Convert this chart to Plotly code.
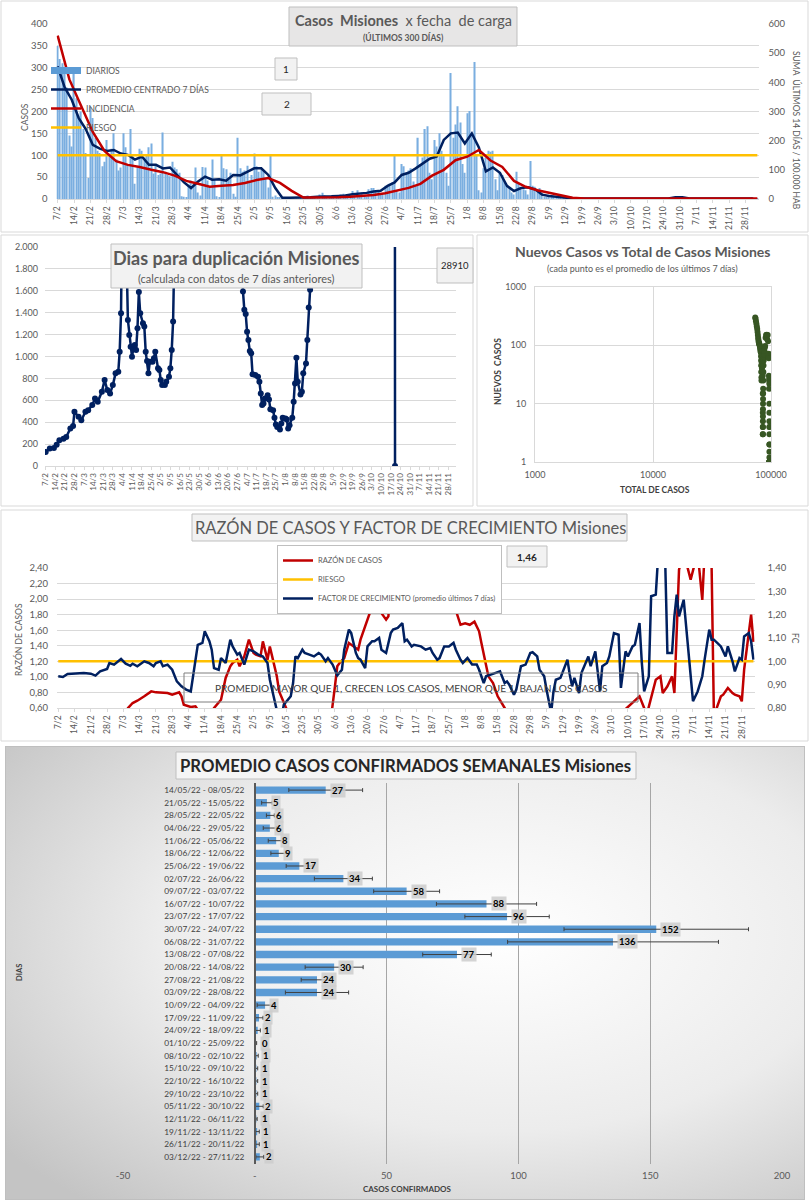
import base64
import datetime as dt
import plotly.graph_objects as go

W, H = 809, 1200
FONT = "Lato, 'Open Sans', sans-serif"
GRAY = "#595959"


def px(x):
    return x / W


def py(y):
    return 1 - y / H


START = dt.datetime(2022, 2, 7)


def day(d):
    return (START + dt.timedelta(days=d)).strftime("%Y-%m-%d")


DATE_RANGE = [(START - dt.timedelta(hours=12)).strftime("%Y-%m-%d %H:%M"),
              (START + dt.timedelta(days=299, hours=12)).strftime("%Y-%m-%d %H:%M")]
WEEK_MS = 7 * 24 * 3600 * 1000
DAY_MS = 24 * 3600 * 1000

# ---------------- Panel 1: Casos Misiones x fecha de carga ----------------
DIARIOS = [
    350, 320, 310, 290, 255, 145, 120,
    290, 230, 185, 200, 160, 105, 48,
    210, 185, 140, 110, 105, 75, 85,
    135, 100, 115, 150, 90, 65, 72,
    150, 118, 78, 160, 100, 35, 72,
    115, 110, 95, 100, 118, 127, 58,
    80, 55, 58, 152, 62, 55, 52,
    85, 72, 68, 60, 6, 5, 4,
    30, 42, 35, 72, 15, 8, 73,
    72, 42, 25, 90, 45, 6, 4,
    98, 70, 68, 48, 60, 12, 5,
    140, 70, 62, 65, 76, 42, 55,
    104, 75, 62, 70, 66, 48, 26,
    98, 5, 8, 4, 3, 2, 2,
    2, 1, 2, 1, 2, 1, 1,
    3, 5, 8, 4, 6, 3, 2,
    10, 14, 8, 5, 6, 3, 2,
    5, 8, 10, 12, 10, 4, 3,
    18, 12, 20, 10, 15, 8, 5,
    22, 25, 25, 18, 20, 12, 10,
    30, 28, 35, 38, 100, 20, 15,
    80, 75, 60, 65, 70, 40, 30,
    140, 80, 95, 160, 166, 60, 45,
    135, 120, 150, 110, 100, 60, 30,
    288, 140, 170, 212, 175, 80, 60,
    196, 201, 150, 313, 100, 20, 15,
    70, 95, 110, 108, 110, 45, 20,
    60, 55, 40, 30, 25, 15, 10,
    62, 35, 25, 22, 20, 10, 87,
    30, 28, 20, 25, 15, 5, 3,
    8, 6, 5, 4, 3, 2, 1,
    3, 2, 2, 1, 2, 1, 1,
    1, 1, 1, 0, 1, 0, 0,
    1, 0, 1, 0, 0, 0, 0,
    1, 1, 0, 1, 0, 0, 0,
    1, 0, 1, 1, 0, 0, 0,
    1, 1, 0, 1, 0, 0, 0,
    1, 0, 1, 1, 0, 0, 0,
    4, 3, 2, 3, 1, 0, 0,
    1, 1, 0, 1, 1, 0, 0,
    1, 1, 1, 0, 1, 0, 0,
    1, 1, 0, 1, 1, 0, 0,
    2, 2, 1, 3, 2, 1,
]
PROM_DAYS = list(range(0, 300, 3))
PROMEDIO_7D = [
    303, 255, 227, 185, 160, 124, 115, 110, 112, 104,
    101, 90, 97, 78, 78, 70, 72, 55, 38, 25,
    40, 51, 44, 45, 42, 55, 54, 62, 70, 70,
    55, 25, 3, 3, 3, 4, 4, 5, 5, 6,
    7, 8, 11, 12, 14, 17, 19, 30, 38, 55,
    60, 70, 80, 92, 97, 135, 150, 152, 127, 150,
    118, 63, 72, 60, 30, 18, 25, 27, 22, 10,
    7, 5, 3, 2, 1, 1, 1, 1, 1, 1,
    1, 1, 1, 1, 1, 1, 1, 1, 4, 4,
    1, 1, 1, 1, 1, 1, 1, 1, 1, 1,
]
INC_DAYS = list(range(0, 300, 5)) + [299]
INCIDENCIA = [
    560, 410, 320, 230, 165, 130, 117, 110, 100, 92,
    80, 62, 52, 42, 45, 48, 55, 65, 72, 55,
    28, 5, 5, 5, 6, 8, 10, 14, 20, 28,
    38, 52, 80, 100, 133, 145, 168, 132, 110, 62,
    42, 30, 22, 12, 4, 2, 2, 2, 2, 2,
    2, 2, 2, 2, 2, 2, 2, 2, 2, 2, 2,
]
RIESGO_CASOS = 100

# ---------------- Panel 2: Dias para duplicación ----------------
DUP_DAYS = [
    0, 3, 6, 8, 10, 13, 15, 18, 20, 21,
    24, 26, 29, 31, 34, 36, 38, 41, 43, 45,
    47, 49, 51, 53, 54, 55, 56, 57, 59, 60,
    61, 62, 63, 64, 65, 66, 67, 68, 69, 71,
    72, 73, 74, 75, 76, 78, 79, 80, 82, 83,
    84, 85, 87, 88, 90, 91, 92, 93, 94,
    96, 100, 105, 110, 115, 120, 125, 130, 135, 140, 143,
    144, 145, 146, 147, 148, 149, 150, 151, 153, 155,
    156, 157, 158, 159, 160, 162, 163, 164, 166, 167,
    168, 169, 171, 172, 173, 175, 176, 177, 178, 180,
    181, 182, 183, 184, 186, 187, 188, 190, 191, 192,
    193, 194,
    197, 200, 205, 210, 215, 220, 225, 230, 235, 240, 245, 250, 254, 255,
]
DUP_VALUES = [
    128, 159, 165, 195, 235, 250, 265, 342, 366, 495,
    450, 418, 495, 510, 556, 617, 586, 678, 785, 693,
    663, 739, 846, 861, 1044, 1395, 2600, 2400, 1930, 1334,
    1197, 1090, 998, 1075, 1105, 1060, 1258, 1588, 1395, 1304,
    1273, 1044, 959, 846, 953, 953, 983, 1044, 892, 876,
    785, 739, 739, 769, 815, 892, 1060, 1319, 2300,
    3500, 6000, 9000, 12000, 15000, 20000, 16000, 9000, 5000, 3000, 2200,
    1594, 1426, 1389, 1227, 1151, 1050, 1029, 837, 830, 815,
    769, 663, 556, 571, 617, 647, 608, 519, 510, 440,
    379, 357, 333, 388, 440, 434, 425, 342, 373, 440,
    586, 754, 989, 770, 653, 678, 846, 937, 1151, 1447,
    1609, 2300,
    3000, 4000, 6000, 9000, 14000, 20000, 25000, 30000, 35000, 40000, 45000, 38000, 28910, 0,
]
DUP_ULTIMO = "28910"

# ---------------- Panel 3: Nuevos casos vs total ----------------
NC_TOTAL = [
    73500, 74000, 74600, 75200, 75800, 76400, 76900, 77400, 77800, 78200, 78600,
    79000, 79400, 79800, 80100, 80400, 80700, 81000, 81300, 81600, 81900, 82100,
    82300, 82500, 82700, 82850, 82950, 83050, 83200, 83350, 83500, 83650, 83800,
    83950, 84100, 84300, 84500, 84700, 84900, 85100, 85200, 85250, 85280,
    85300, 85320, 85350, 85380, 85420, 85480, 85550, 85630, 85720, 85830, 85960,
    86150, 86400, 86700, 87100, 87500, 88000, 88600, 89200, 90000, 90900, 91900,
    92800, 93700, 94500,
    95000, 95400, 95800, 96100, 96250, 96400, 96600, 96750, 96850, 96900, 96930,
    96950, 96965, 96975, 96985, 96990, 96995, 97000, 97005,
    97010, 97020, 97030, 97050, 97080, 97100, 97110, 97130,
]
NC_NEW = [
    300, 285, 260, 235, 210, 190, 170, 150, 135, 125, 115,
    110, 108, 104, 100, 98, 95, 90, 85, 80, 78, 75,
    65, 55, 45, 35, 28, 25, 35, 45, 50, 44, 40,
    48, 55, 60, 70, 66, 52, 30, 15, 7, 4,
    3, 3, 4, 5, 6, 8, 10, 12, 15, 18, 25,
    35, 45, 55, 62, 70, 80, 92, 97, 135, 150, 152,
    127, 150, 118,
    63, 72, 60, 30, 18, 25, 27, 22, 10, 7, 5,
    3, 2, 1.5, 1.2, 1, 1, 1, 1,
    1, 1, 1, 4, 4, 1, 1, 2,
]

# ---------------- Panel 4: Razón de casos y factor de crecimiento ----------------
FC_DAYS = [
    0, 2, 4, 6, 8, 11, 14, 16, 18, 21,
    22, 24, 27, 29, 31, 32, 34, 37, 39, 41,
    42, 44, 45, 47, 49, 51, 53, 55, 57, 58,
    60, 62, 63, 65, 66, 67, 69, 70, 72, 74,
    75, 77, 78, 80, 81, 82, 84, 86, 88, 90,
    91, 92, 94, 96, 97, 100, 101, 102, 103, 105,
    106, 108, 110, 112, 113, 115, 116, 118, 119, 120,
    122, 123, 125, 126, 128, 129, 130, 132, 133, 135,
    136, 138, 139, 141, 143, 144, 146, 148, 149, 150,
    152, 153, 156, 158, 160, 161, 163, 164, 166, 168,
    170, 171, 173, 174, 176, 178, 180, 181, 183, 184,
    186, 188, 190, 192, 193, 194, 196, 197, 199, 201,
    203, 204, 206, 207, 209, 210, 212, 213, 214, 216,
    217, 219, 220, 221, 222, 224, 225, 227, 228, 229,
    231, 233, 234, 236, 237, 239, 241, 242, 244, 245,
    247, 248, 250, 251, 252, 254, 255, 257, 258, 261,
    262, 264, 265, 266, 267, 269, 270, 272, 273, 275,
    277, 278, 280, 281, 282, 285, 287, 288, 290, 291,
    293, 294, 295, 297, 298, 299,
]
FC_VALUES = [
    .936, .933, .946, .947, .95, .95, .947, .939, .957, .967,
    .993, .986, 1.01, .99, .981, .99, .979, 1.0, .993, .979,
    .993, 1.0, .979, .986, .964, .914, .893, .879, .871, .936,
    1.071, 1.079, 1.129, 1.086, 1.05, .971, .964, 1.014, .993, 1.093,
    1.064, 1.029, 1.036, .986, 1.021, 1.05, 1.043, 1.029, 1.021, .993,
    .921, .871, .79, .76, .814, .85, .907, 1.021, 1.014, 1.05,
    1.036, 1.029, 1.021, 1.036, 1.029, 1.0, 1.014, .986, .964, .94,
    .964, 1.05, 1.136, 1.121, 1.036, 1.014, 1.007, .971, 1.064, 1.086,
    1.086, 1.1, 1.05, 1.036, 1.121, 1.136, 1.143, 1.164, 1.086, 1.093,
    1.064, 1.071, 1.064, 1.05, 1.057, 1.036, 1.007, 1.014, 1.064, 1.064,
    1.079, 1.05, 1.007, .993, 1.014, .986, .986, .964, .907, .936,
    .943, .95, .957, .907, .914, .9, .857, .879, .979, .986,
    1.036, 1.039, 1.021, .964, .936, .879, .78, .871, .921, .929,
    .957, 1.007, .943, .893, .929, .864, .95, .993, 1.021, .979,
    1.043, .871, .979, .993, 1.021, 1.121, 1.114, .886, 1.043, 1.021,
    1.064, 1.071, 1.164, .993, .871, .936, 1.279, 1.286, 1.45, 1.45,
    1.036, 1.036, 1.193, 1.286, 1.193, 1.264, 1.157, .936, .829, .871,
    .936, 1.007, 1.136, 1.093, 1.093, 1.064, 1.021, 1.064, 1.0, .957,
    1.014, 1.007, 1.107, 1.121, 1.086, 1.007,
]
RAZON_DAYS = [
    0, 15, 28, 30, 32, 34, 37, 38, 40, 42,
    45, 47, 49, 52, 53, 54, 57, 59, 60, 62,
    65, 67, 70, 71, 72, 74, 75, 77, 78, 80,
    81, 82, 84, 85, 87, 88, 90, 91, 92, 94,
    95, 97, 98, 100, 117, 119, 120, 121, 123, 125,
    127, 129, 130, 133, 134, 135, 136, 138, 139, 141,
    142, 143, 145, 150, 160, 166, 168, 169, 171, 173,
    175, 177, 179, 181, 182, 184, 185, 187, 189, 192,
    195, 239, 248, 250, 252, 253, 257, 259, 260, 262,
    264, 265, 267, 269, 272, 273, 275, 277, 278, 280,
    281, 282, 285, 286, 288, 290, 291, 293, 294, 295,
    297, 298, 299,
]
RAZON_VALUES = [
    .45, .45, .5, .6, .664, .694, .75, .771, .814, .801,
    .793, .793, .771, .801, .75, .643, .613, .621, .579, .45,
    .5, .6, .707, .836, .986, 1.136, 1.179, 1.22, 1.136, 1.264,
    1.39, 1.48, 1.307, 1.286, 1.264, 1.457, 1.22, 1.39, 1.264, 1.007,
    .814, .686, .6, .45, .4, .879, 1.136, 1.179, 1.243, 1.436,
    1.393, 1.35, 1.479, 1.736, 1.821, 2.08, 2.5, 2.12, 1.82, 1.736,
    1.779, 2.21, 2.6, 2.7, 2.7, 2.06, 2.02, 2.04, 1.86, 1.67,
    1.69, 1.67, 1.71, 1.586, 1.436, 1.136, 1.007, .921, .75, .6,
    .45, .45, .686, .75, .6, .5, .964, 1.007, .793, .879,
    1.007, .793, 2.38, 2.6, 2.25, 2.38, 2.6, 1.99, 2.6, 2.56,
    2.43, .5, .75, .771, .857, .793, .771, .75, .686, 1.093,
    1.607, 1.8, 1.45,
]
RIESGO_RAZON = 1.2
ULTIMO_FC = "1,46"

# ---------------- Panel 5: Promedio casos confirmados semanales ----------------
SEMANAS = [
    "14/05/22 - 08/05/22", "21/05/22 - 15/05/22", "28/05/22 - 22/05/22",
    "04/06/22 - 29/05/22", "11/06/22 - 05/06/22", "18/06/22 - 12/06/22",
    "25/06/22 - 19/06/22", "02/07/22 - 26/06/22", "09/07/22 - 03/07/22",
    "16/07/22 - 10/07/22", "23/07/22 - 17/07/22", "30/07/22 - 24/07/22",
    "06/08/22 - 31/07/22", "13/08/22 - 07/08/22", "20/08/22 - 14/08/22",
    "27/08/22 - 21/08/22", "03/09/22 - 28/08/22", "10/09/22 - 04/09/22",
    "17/09/22 - 11/09/22", "24/09/22 - 18/09/22", "01/10/22 - 25/09/22",
    "08/10/22 - 02/10/22", "15/10/22 - 09/10/22", "22/10/22 - 16/10/22",
    "29/10/22 - 23/10/22", "05/11/22 - 30/10/22", "12/11/22 - 06/11/22",
    "19/11/22 - 13/11/22", "26/11/22 - 20/11/22", "03/12/22 - 27/11/22",
]
PROM_SEMANAL = [26.9, 4.6, 5.9, 5.7, 8.1, 9.1, 16.9, 33.6, 57.6, 87.9,
                95.7, 152.3, 135.9, 76.7, 30.1, 23.6, 23.6, 3.9, 1.6, 1.1,
                0.3, 0.7, 0.6, 0.6, 0.6, 1.7, 0.6, 0.9, 0.9, 1.9]
ERROR_SEMANAL = [14, 2, 1.5, 2.5, 3, 3, 5, 11, 12.5, 19,
                 16, 35, 40, 13, 11, 6, 12, 3, 1.5, 1,
                 0.4, 0.6, 0.5, 0.5, 0.5, 1.5, 0.3, 0.8, 0.8, 1.5]

# ====================================================================
fig = go.Figure()

BAR_BLUE = "#7aaee0"
# Panel 1 traces (legend swatch for DIARIOS drawn as a thick bar-like line)
fig.add_trace(go.Scatter(x=[None], y=[None], mode="lines", name="DIARIOS",
                         line=dict(color="#5b9bd5", width=7), xaxis="x", yaxis="y",
                         legend="legend", hoverinfo="skip"))
fig.add_trace(go.Bar(x=[day(i) for i in range(len(DIARIOS))], y=DIARIOS, name="DIARIOS",
                     width=0.5 * DAY_MS, showlegend=False,
                     marker=dict(color=BAR_BLUE, line_width=0), xaxis="x", yaxis="y"))
fig.add_trace(go.Scatter(x=[day(d) for d in PROM_DAYS], y=PROMEDIO_7D, mode="lines",
                         name="PROMEDIO CENTRADO 7 DÍAS", line=dict(color="#002060", width=2.5),
                         xaxis="x", yaxis="y", legend="legend"))
fig.add_trace(go.Scatter(x=[day(d) for d in INC_DAYS], y=INCIDENCIA, mode="lines",
                         name="INCIDENCIA", line=dict(color="#c00000", width=2.5),
                         xaxis="x", yaxis="y2", legend="legend"))
fig.add_trace(go.Scatter(x=[day(0), day(299)], y=[RIESGO_CASOS, RIESGO_CASOS], mode="lines",
                         name="RIESGO", line=dict(color="#ffc000", width=2.5),
                         xaxis="x", yaxis="y", legend="legend"))

# Panel 2
fig.add_trace(go.Scatter(x=[day(d) for d in DUP_DAYS], y=DUP_VALUES, mode="lines+markers",
                         line=dict(color="#002060", width=2.5),
                         marker=dict(color="#002060", size=6), showlegend=False,
                         xaxis="x3", yaxis="y3"))

# Panel 3
fig.add_trace(go.Scatter(x=NC_TOTAL, y=NC_NEW, mode="markers",
                         marker=dict(color="#375623", size=6), showlegend=False,
                         xaxis="x4", yaxis="y4"))

# Panel 4
fig.add_trace(go.Scatter(x=[day(d) for d in RAZON_DAYS], y=RAZON_VALUES, mode="lines",
                         name="RAZÓN DE CASOS", line=dict(color="#c00000", width=2.5),
                         xaxis="x5", yaxis="y5", legend="legend2"))
fig.add_trace(go.Scatter(x=[day(0), day(299)], y=[RIESGO_RAZON, RIESGO_RAZON], mode="lines",
                         name="RIESGO", line=dict(color="#ffc000", width=2.5),
                         xaxis="x5", yaxis="y5", legend="legend2"))
fig.add_trace(go.Scatter(x=[day(d) for d in FC_DAYS], y=FC_VALUES, mode="lines",
                         name="FACTOR DE CRECIMIENTO (promedio últimos 7 días)",
                         line=dict(color="#002060", width=2.5),
                         xaxis="x5", yaxis="y6", legend="legend2"))

# Panel 5
fig.add_trace(go.Bar(x=PROM_SEMANAL, y=SEMANAS, orientation="h", width=0.58,
                     marker=dict(color="#5b9bd5", line_width=0),
                     error_x=dict(type="data", array=ERROR_SEMANAL, color="#404040",
                                  thickness=1, width=2),
                     showlegend=False, xaxis="x7", yaxis="y7"))

tickfont = dict(size=9.5, color=GRAY, family=FONT)
datefont = dict(size=8.5, color=GRAY, family=FONT)

date_axis = dict(type="date", range=DATE_RANGE, tick0=day(0), dtick=WEEK_MS,
                 tickformat="%-d/%-m", tickangle=-90, tickfont=datefont, showgrid=False,
                 showline=True, linecolor="#d9d9d9", ticks="outside", ticklen=3,
                 tickcolor="#d9d9d9", zeroline=False, automargin=False)

noauto = dict(automargin=False)

fig.update_layout(
    width=W, height=H, autosize=False,
    margin=dict(l=0, r=0, t=0, b=0, pad=0, autoexpand=False),
    paper_bgcolor="white", plot_bgcolor="rgba(0,0,0,0)",
    font=dict(family=FONT, color=GRAY), separators=",.",
    xaxis=dict(date_axis, domain=[px(56.5), px(758.5)], anchor="y"),
    yaxis=dict(noauto, domain=[py(199), py(24)], range=[0, 400], dtick=50, gridcolor="#d9d9d9",
               tickfont=tickfont, ticklabelstandoff=8, zeroline=False, anchor="x"),
    yaxis2=dict(noauto, overlaying="y", side="right", range=[0, 600], dtick=100, showgrid=False,
                tickfont=tickfont, ticklabelstandoff=9, zeroline=False, anchor="x"),
    xaxis3=dict(date_axis, domain=[px(45), px(456)], anchor="y3",
                tickfont=dict(size=8, color=GRAY, family=FONT)),
    yaxis3=dict(noauto, domain=[py(466), py(247)], range=[0, 2000], dtick=200, tickformat=",.0f",
                gridcolor="#d9d9d9", tickfont=dict(size=9, color=GRAY, family=FONT),
                ticklabelstandoff=6, zeroline=False, anchor="x3"),
    xaxis4=dict(noauto, type="log", range=[3, 5], domain=[px(535), px(771)], anchor="y4",
                tickvals=[1000, 10000, 100000], ticktext=["1000", "10000", "100000"],
                gridcolor="#d9d9d9", showline=True, mirror=True, linecolor="#d9d9d9",
                tickfont=dict(size=9, color=GRAY, family=FONT), zeroline=False,
                ticklabelstandoff=4),
    yaxis4=dict(noauto, type="log", range=[0, 3], domain=[py(462), py(287)], anchor="x4",
                tickvals=[1, 10, 100, 1000], ticktext=["1", "10", "100", "1000"],
                gridcolor="#d9d9d9", showline=True, mirror=True, linecolor="#d9d9d9",
                tickfont=dict(size=9, color=GRAY, family=FONT), zeroline=False,
                ticklabelstandoff=6),
    xaxis5=dict(date_axis, domain=[px(57.1), px(754.6)], anchor="y5"),
    yaxis5=dict(noauto, domain=[py(708), py(568)], range=[0.6, 2.4], dtick=0.2, tickformat=".2f",
                gridcolor="#d9d9d9", tickfont=tickfont, ticklabelstandoff=8,
                zeroline=False, anchor="x5"),
    yaxis6=dict(noauto, overlaying="y5", side="right", range=[0.8, 1.4], dtick=0.1,
                tickformat=".2f", showgrid=False, tickfont=tickfont, ticklabelstandoff=12,
                zeroline=False, anchor="x5"),
    xaxis7=dict(noauto, range=[-50, 200], domain=[px(123), px(782)], anchor="y7",
                tickvals=[-50, 0, 50, 100, 150, 200],
                ticktext=["-50", "-", "50", "100", "150", "200"],
                gridcolor="#a6a6a6", zeroline=False, showline=False,
                tickfont=dict(size=9.5, color=GRAY, family=FONT), ticklabelstandoff=4),
    yaxis7=dict(noauto, type="category", autorange="reversed", domain=[py(1164.4), py(782.6)],
                anchor="free", position=px(255), showline=True, linecolor="#595959",
                linewidth=2, showgrid=False, ticks="",
                tickfont=dict(size=8.3, color="#404040", family=FONT), ticklabelstandoff=8),
    legend=dict(x=px(46), y=py(56), xanchor="left", yanchor="top",
                font=dict(size=8.5, color=GRAY, family=FONT), bgcolor="rgba(0,0,0,0)",
                tracegroupgap=0, itemwidth=30),
    legend2=dict(x=px(277), y=py(545), xanchor="left", yanchor="top",
                 font=dict(size=7.5, color=GRAY, family=FONT), bgcolor="white",
                 bordercolor="#bfbfbf", borderwidth=1, tracegroupgap=0, itemwidth=30),
)

# Gradient background for panel 5
svg = ("<svg xmlns='http://www.w3.org/2000/svg' width='800' height='454'>"
       "<defs><radialGradient id='g' cx='0.62' cy='0.42' r='0.78'>"
       "<stop offset='0' stop-color='#ffffff'/><stop offset='0.55' stop-color='#ececec'/>"
       "<stop offset='1' stop-color='#c4c4c4'/></radialGradient></defs>"
       "<rect x='0.5' y='0.5' width='799' height='453' fill='url(#g)' stroke='#bfbfbf'/></svg>")
fig.add_layout_image(dict(source="data:image/svg+xml;base64," + base64.b64encode(svg.encode()).decode(),
                          xref="paper", yref="paper", x=px(5), y=py(746), sizex=800 / W,
                          sizey=454 / H, xanchor="left", yanchor="top", sizing="stretch",
                          layer="below"))

shapes = []


def box(x0, y0, x1, y1, fill="rgba(0,0,0,0)", line="#d9d9d9", width=1, layer="below"):
    shapes.append(dict(type="rect", xref="paper", yref="paper", x0=px(x0), x1=px(x1),
                       y0=py(y0), y1=py(y1), fillcolor=fill,
                       line=dict(color=line, width=width), layer=layer))


# panel frames
box(1, 1, 808, 232)
box(1, 235, 473, 506)
box(477, 235, 808, 506)
box(1, 510, 808, 741)
# text boxes
box(289, 7, 517, 46, fill="#e7e6e6", line="#bfbfbf", layer="above")
box(275, 58, 297, 80, fill="#f2f2f2", line="#bfbfbf", layer="above")
box(262, 93, 311, 115, fill="#f2f2f2", line="#bfbfbf", layer="above")
box(111, 244, 362, 288, fill="#f2f2f2", line="#bfbfbf", layer="above")
box(437, 248, 473, 283, fill="#f2f2f2", line="#bfbfbf", layer="above")
box(192, 514, 627, 541, fill="#f2f2f2", line="#bfbfbf", layer="above")
box(507, 546, 547, 567, fill="#f2f2f2", line="#bfbfbf", layer="above")
box(184, 673, 638, 702, line="#7f7f7f", layer="above")
box(176, 752, 636, 779, fill="rgba(245,245,245,0.95)", line="#bfbfbf", layer="above")
fig.update_layout(shapes=shapes)

ann = []


def text(x, y, s, size=10, color=GRAY, angle=0, xanchor="center", bold=False):
    ann.append(dict(x=px(x), y=py(y), xref="paper", yref="paper", text=f"<b>{s}</b>" if bold else s,
                    showarrow=False, textangle=angle, xanchor=xanchor, yanchor="middle",
                    font=dict(size=size, color=color, family=FONT)))


text(403, 20, "<b>Casos  Misiones</b>  x fecha  de carga", size=14.5)
text(403, 38, "(ÚLTIMOS 300 DÍAS)", size=8.5, bold=True)
text(286, 69, "1", size=10, color="#262626")
text(286.5, 104, "2", size=10, color="#262626")
text(25, 117, "CASOS", size=8.5, angle=-90)
text(797, 130, "SUMA  ÚLTIMOS 14 DÍAS / 100.000 HAB", size=8.5, angle=90)

text(236.5, 258, "Dias para duplicación Misiones", size=18, bold=True)
text(236.5, 278, "(calculada con datos de 7 días anteriores)", size=11)
text(455, 265, DUP_ULTIMO, size=9.5, color="#262626")

text(642, 252, "Nuevos Casos vs Total de Casos Misiones", size=14, bold=True)
text(642, 268, "(cada punto es el promedio de los últimos 7 días)", size=9)
text(498, 372, "NUEVOS  CASOS", size=8.5, angle=-90, color="#404040", bold=True)
text(655, 490, "TOTAL DE CASOS", size=8.5, color="#404040", bold=True)

text(410, 527.5, "RAZÓN DE CASOS Y FACTOR DE CRECIMIENTO Misiones", size=16.5)
text(527, 556.5, ULTIMO_FC, size=10, color="#262626", bold=True)
text(411, 688, "PROMEDIO MAYOR QUE 1, CRECEN LOS CASOS, MENOR QUE 1, BAJAN LOS CASOS",
     size=10.1, color="#404040")
text(18, 640, "RAZÓN DE CASOS", size=8.5, angle=-90)
text(795, 638, "FC", size=8.5, angle=90)

text(406, 766, "PROMEDIO CASOS CONFIRMADOS SEMANALES Misiones", size=16.7, color="#262626", bold=True)
text(19, 973, "DIAS", size=7.5, angle=-90, color="#404040", bold=True)
text(408, 1189, "CASOS CONFIRMADOS", size=8, color="#404040", bold=True)

for cat, v in zip(SEMANAS, PROM_SEMANAL):
    ann.append(dict(x=v, y=cat, xref="x7", yref="y7", text=f"<b>{v:.0f}</b>",
                    showarrow=False, xanchor="left", yanchor="middle", xshift=4,
                    bgcolor="rgba(205,205,205,0.85)", borderpad=1,
                    font=dict(size=9.5, color="black", family=FONT)))

fig.update_layout(annotations=ann)

POST = ("document.documentElement.style.margin='0';document.body.style.margin='0';"
        "document.body.style.overflow='hidden';"
        "var d=document.querySelector('.plotly-graph-div');"
        "d.style.position='fixed';d.style.left='0px';d.style.top='0px';")

fig.write_html("out.html", config={"responsive": False, "displayModeBar": False},
               default_width="809px", default_height="1200px", post_script=POST)
